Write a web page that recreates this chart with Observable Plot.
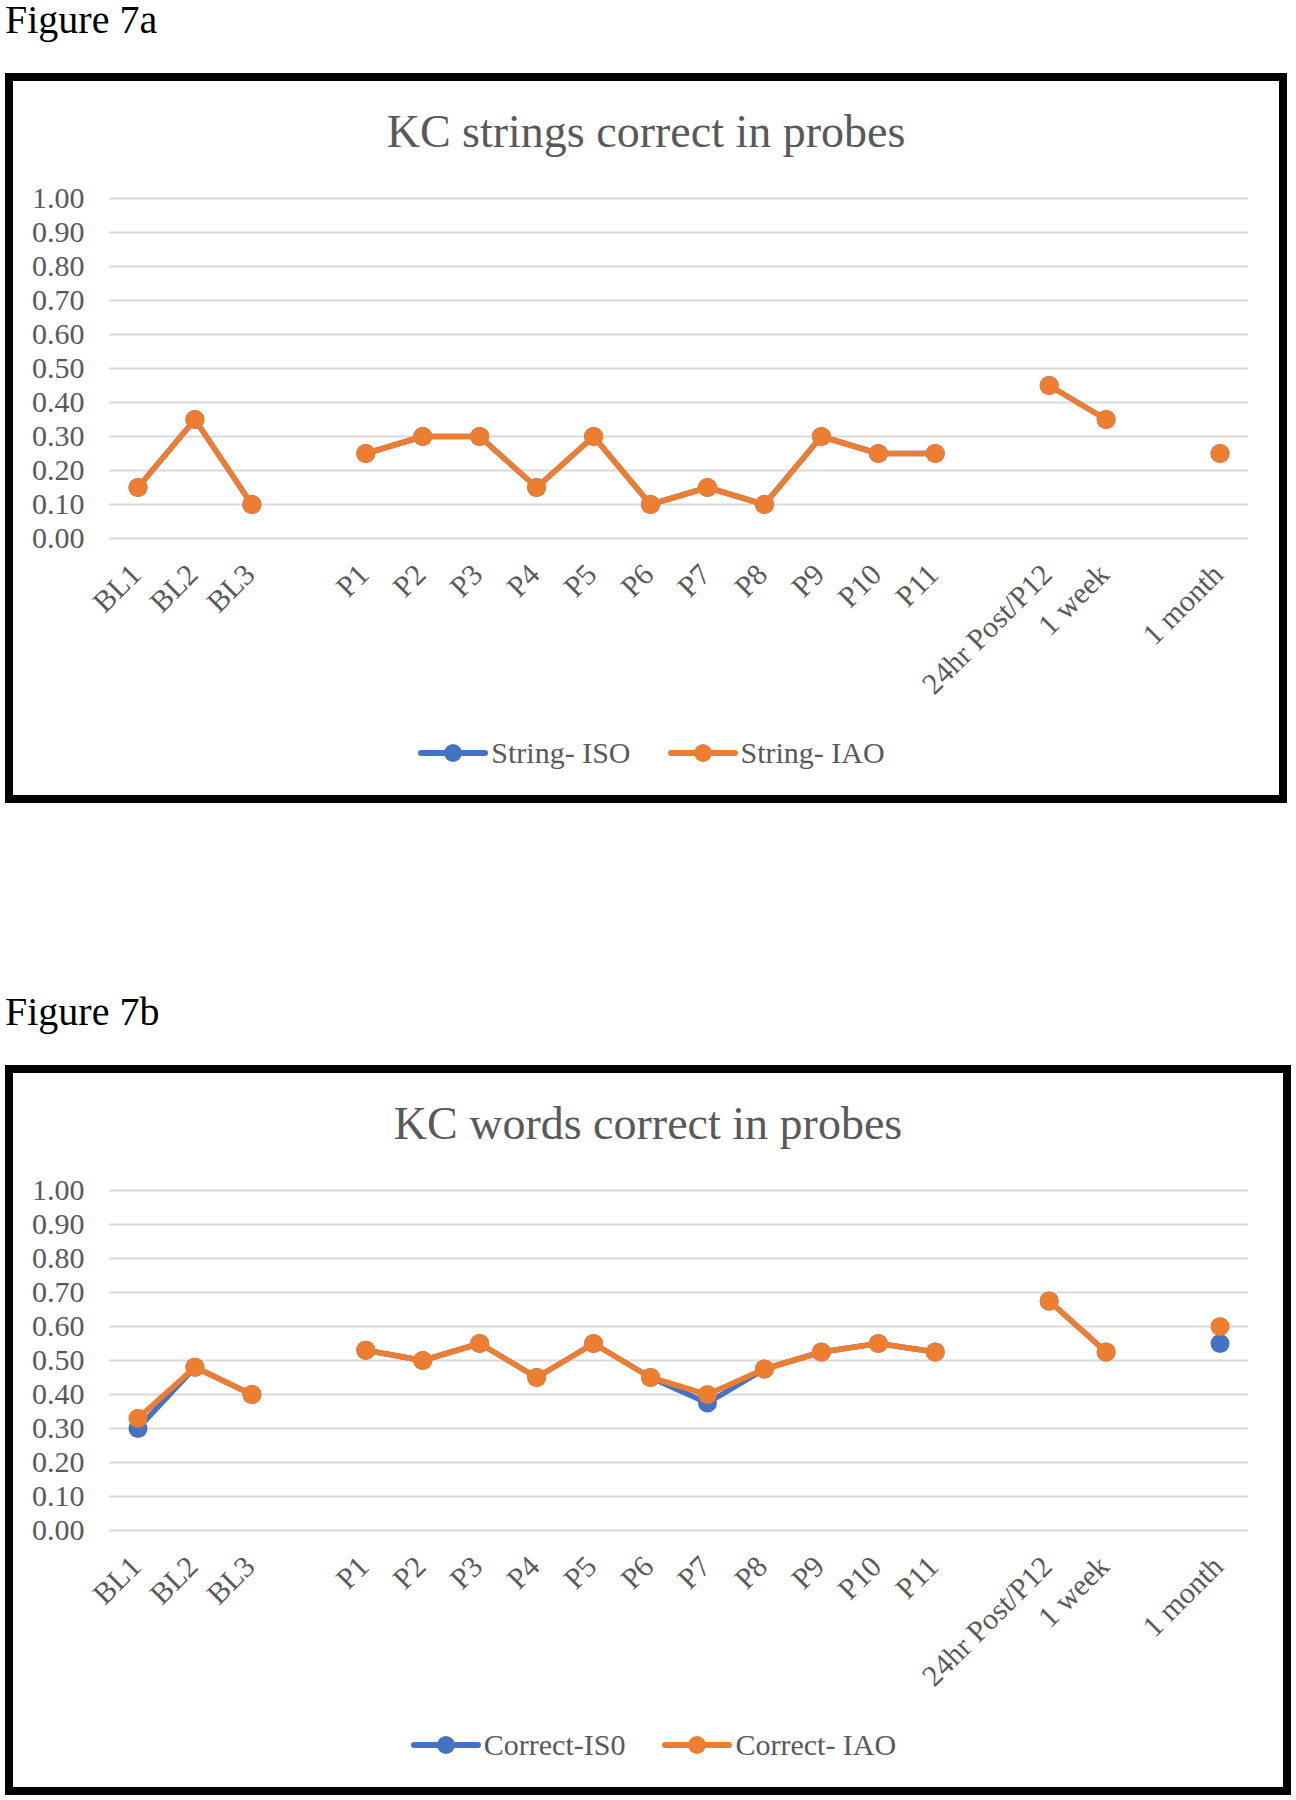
<!DOCTYPE html>
<html>
<head>
<meta charset="utf-8">
<script src="https://cdn.jsdelivr.net/npm/d3@7"></script>
<script src="https://cdn.jsdelivr.net/npm/@observablehq/plot@0.6"></script>
<style>
  html, body { margin: 0; padding: 0; background: #fff; }
  body { width: 1296px; height: 1800px; position: relative; overflow: hidden; font-family: "Liberation Serif", "Times New Roman", serif; }
  .figlabel { position: absolute; left: 5px; font-size: 40px; line-height: 1; color: #000; }
  .box { position: absolute; box-sizing: border-box; border: 8px solid #000; background: #fff; }
  .title { position: absolute; text-align: center; font-size: 46px; line-height: 1; color: #595959; white-space: nowrap; }
  .chart { position: absolute; left: 0; }
  .legend { position: absolute; display: flex; justify-content: center; align-items: center; font-size: 30px; color: #595959; height: 40px; }
  .legend .item { display: flex; align-items: center; }
  .legend .item + .item { margin-left: 36px; }
  .legend svg { display: block; margin-right: 2px; }
</style>
</head>
<body>
<script>
// ---- Data ----
const categories = ["BL1", "BL2", "BL3", " ", "P1", "P2", "P3", "P4", "P5", "P6", "P7", "P8", "P9", "P10", "P11", "  ", "24hr Post/P12", "1 week", "   ", "1 month"];
const yTicks = [0, 0.1, 0.2, 0.3, 0.4, 0.5, 0.6, 0.7, 0.8, 0.9, 1.0];

// Figure 7a
const stringISO = [0.15, 0.35, 0.10, null, 0.25, 0.30, 0.30, 0.15, 0.30, 0.10, 0.15, 0.10, 0.30, 0.25, 0.25, null, 0.45, 0.35, null, 0.25];
const stringIAO = [0.15, 0.35, 0.10, null, 0.25, 0.30, 0.30, 0.15, 0.30, 0.10, 0.15, 0.10, 0.30, 0.25, 0.25, null, 0.45, 0.35, null, 0.25];

// Figure 7b
const correctISO = [0.30, 0.48, 0.40, null, 0.53, 0.50, 0.55, 0.45, 0.55, 0.45, 0.375, 0.475, 0.525, 0.55, 0.525, null, 0.675, 0.525, null, 0.55];
const correctIAO = [0.33, 0.48, 0.40, null, 0.53, 0.50, 0.55, 0.45, 0.55, 0.45, 0.40, 0.475, 0.525, 0.55, 0.525, null, 0.675, 0.525, null, 0.60];

const BLUE = "#4472C4";
const ORANGE = "#ED7D31";

function el(tag, cls, style, text) {
  const e = document.createElement(tag);
  if (cls) e.className = cls;
  if (style) Object.assign(e.style, style);
  if (text != null) e.textContent = text;
  document.body.appendChild(e);
  return e;
}

function swatch(color) {
  const ns = "http://www.w3.org/2000/svg";
  const s = document.createElementNS(ns, "svg");
  s.setAttribute("width", 72); s.setAttribute("height", 22);
  const l = document.createElementNS(ns, "line");
  l.setAttribute("x1", 4); l.setAttribute("x2", 68); l.setAttribute("y1", 11); l.setAttribute("y2", 11);
  l.setAttribute("stroke", color); l.setAttribute("stroke-width", 6); l.setAttribute("stroke-linecap", "round");
  const c = document.createElementNS(ns, "circle");
  c.setAttribute("cx", 36); c.setAttribute("cy", 11); c.setAttribute("r", 9); c.setAttribute("fill", color);
  s.appendChild(l); s.appendChild(c);
  return s;
}

function figure(cfg) {
  const o = cfg.offset;
  el("div", "figlabel", {top: (0 + o) + "px"}, cfg.label);
  el("div", "box", {left: "5px", top: (73 + o) + "px", width: cfg.boxW + "px", height: "730px"});
  el("div", "title", {left: "5px", width: cfg.boxW + "px", top: (108.5 + o) + "px"}, cfg.title);

  const data = categories.map((c, i) => ({cat: c, iso: cfg.iso[i], iao: cfg.iao[i]}));

  const chart = Plot.plot({
    width: 1296,
    height: 548,
    marginLeft: 109,
    marginRight: 48,
    marginTop: 38,
    marginBottom: 170,
    style: {fontFamily: "'Liberation Serif', 'Times New Roman', serif", fontSize: "30px", color: "#595959", background: "transparent", overflow: "visible"},
    x: {type: "point", domain: categories, padding: 0.5, align: 0.5, round: false, label: null},
    y: {domain: [0, 1], label: null},
    marks: [
      Plot.gridY(yTicks, {stroke: "#D9D9D9", strokeOpacity: 1, strokeWidth: 2}),
      Plot.axisY(yTicks, {tickSize: 0, tickPadding: 25, tickFormat: d3.format(".2f"), fill: "#595959", label: null}),
      Plot.axisX({tickSize: 0, tickPadding: 31, dx: -2, tickRotate: -45, tickFormat: d => d.trim(), fill: "#595959", label: null}),
      Plot.line(data, {x: "cat", y: "iso", stroke: BLUE, strokeWidth: 5.5, strokeLinejoin: "round", strokeLinecap: "round"}),
      Plot.dot(data, {x: "cat", y: "iso", r: 9.5, fill: BLUE, stroke: null}),
      Plot.line(data, {x: "cat", y: "iao", stroke: ORANGE, strokeWidth: 5.5, strokeLinejoin: "round", strokeLinecap: "round"}),
      Plot.dot(data, {x: "cat", y: "iao", r: 9.5, fill: ORANGE, stroke: null})
    ]
  });
  chart.classList.add("chart");
  chart.style.position = "absolute";
  chart.style.left = "0px";
  chart.style.top = (160 + o) + "px";
  document.body.appendChild(chart);

  const lg = el("div", "legend", {left: (5 + cfg.legendShift) + "px", width: cfg.boxW + "px", top: (733 + o) + "px"});
  cfg.series.forEach(([name, color]) => {
    const it = document.createElement("div");
    it.className = "item";
    it.appendChild(swatch(color));
    const t = document.createElement("span");
    t.textContent = name;
    it.appendChild(t);
    lg.appendChild(it);
  });
}

figure({offset: 0, label: "Figure 7a", title: "KC strings correct in probes", boxW: 1282, legendShift: 5,
  iso: stringISO, iao: stringIAO, series: [["String- ISO", BLUE], ["String- IAO", ORANGE]]});
figure({offset: 992, label: "Figure 7b", title: "KC words correct in probes", boxW: 1286, legendShift: 5,
  iso: correctISO, iao: correctIAO, series: [["Correct-IS0", BLUE], ["Correct- IAO", ORANGE]]});
</script>
</body>
</html>
